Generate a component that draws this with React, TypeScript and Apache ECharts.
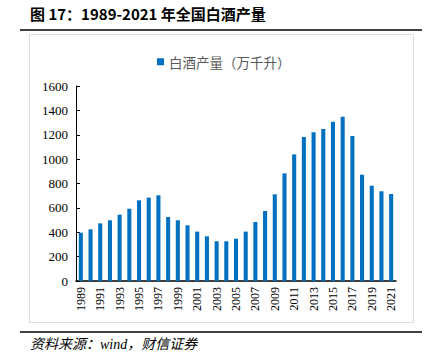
import React, { useEffect, useRef } from "react";
import * as echarts from "echarts";

const years = [
  "1989","1990","1991","1992","1993","1994","1995","1996","1997","1998","1999",
  "2000","2001","2002","2003","2004","2005","2006","2007","2008","2009","2010",
  "2011","2012","2013","2014","2015","2016","2017","2018","2019","2020","2021",
];
const production = [
  396, 424, 473, 498, 544, 593, 662, 684, 703, 525, 498,
  457, 405, 367, 326, 326, 347, 405, 484, 574, 711, 883,
  1039, 1181, 1220, 1247, 1307, 1348, 1190, 872, 782, 736, 714,
];
const seriesName = "白酒产量（万千升）";
const titleText = "图 17：1989-2021 年全国白酒产量";
const sourceText = "资料来源：wind，财信证券";

export default function App() {
  const ref = useRef<HTMLDivElement>(null);
  useEffect(() => {
    if (!ref.current) return;
    const chart = echarts.init(ref.current, null, { renderer: "svg" });
    chart.setOption({
      animation: false,
      backgroundColor: "#ffffff",
      legend: {
        data: [seriesName],
        top: 50,
        left: 152,
        itemWidth: 7,
        itemHeight: 7,
        icon: "rect",
        itemGap: 4,
        textStyle: { fontFamily: "Noto Sans CJK SC", fontSize: 13.5, color: "#595959" },
      },
      grid: { left: 76, right: 34, top: 86, bottom: 82 },
      xAxis: {
        type: "category",
        data: years,
        axisLine: { lineStyle: { color: "#000", width: 1.5 } },
        axisTick: { inside: true, length: 4, lineStyle: { color: "#000" } },
        axisLabel: {
          rotate: 90,
          interval: 1,
          margin: 6,
          fontFamily: "Liberation Serif",
          fontSize: 12,
          color: "#000",
        },
      },
      yAxis: {
        type: "value",
        min: 0,
        max: 1600,
        interval: 200,
        splitLine: { show: false },
        axisLine: { show: true, lineStyle: { color: "#000", width: 1 } },
        axisTick: { show: true, inside: true, length: 4, lineStyle: { color: "#000" } },
        axisLabel: {
          margin: 8,
          formatter: (v: number) => String(v),
          fontFamily: "Liberation Serif",
          fontSize: 13,
          color: "#000",
        },
      },
      series: [
        {
          name: seriesName,
          type: "bar",
          data: production,
          barWidth: "42%",
          itemStyle: { color: "#0070C0" },
        },
      ],
      graphic: [
        {
          type: "text",
          left: 30,
          top: 6,
          style: {
            text: titleText,
            fontFamily: "Noto Sans CJK SC",
            fontWeight: "bold",
            fontSize: 15,
            fill: "#000",
          },
        },
        {
          type: "line",
          shape: { x1: 20, y1: 30, x2: 422, y2: 30 },
          style: { stroke: "#000", lineWidth: 1.5 },
        },
        {
          type: "rect",
          shape: { x: 29.5, y: 34.5, width: 384, height: 288 },
          style: { fill: "none", stroke: "#dddddd", lineWidth: 1 },
        },
        {
          type: "line",
          shape: { x1: 20, y1: 332, x2: 422, y2: 332 },
          style: { stroke: "#000", lineWidth: 1.5 },
        },
        {
          type: "text",
          left: 30,
          top: 337,
          style: {
            text: sourceText,
            fontFamily: "Liberation Serif, Noto Sans CJK SC",
            fontStyle: "italic",
            fontSize: 14,
            fill: "#000",
          },
        },
      ],
    });
    return () => chart.dispose();
  }, []);
  return (
    <div
      ref={ref}
      style={{ position: "fixed", left: 0, top: 0, width: 430, height: 363 }}
    />
  );
}
